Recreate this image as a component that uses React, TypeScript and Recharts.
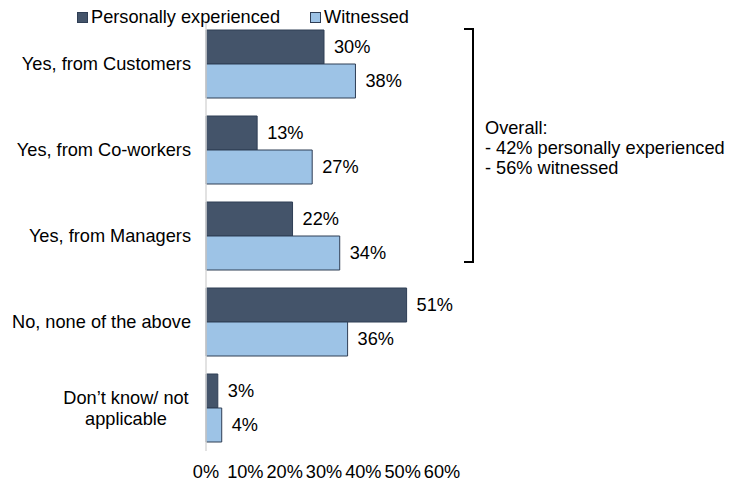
import { BarChart, Bar, XAxis, YAxis, Legend, LabelList } from "recharts";

const categories = [
  "Yes, from Customers",
  "Yes, from Co-workers",
  "Yes, from Managers",
  "No, none of the above",
  "Don\u2019t know/ not|applicable",
];
const personallyExperienced = [30, 13, 22, 51, 3];
const witnessed = [38, 27, 34, 36, 4];
const xTicks = [0, 10, 20, 30, 40, 50, 60];
const overallNote = [
  "Overall:",
  "- 42% personally experienced",
  "- 56% witnessed",
];

const series = [
  { key: "personal", name: "Personally experienced", fill: "#44546A", values: personallyExperienced },
  { key: "witnessed", name: "Witnessed", fill: "#9DC3E6", values: witnessed },
];

const data = categories.map((c, i) => ({
  category: c,
  personal: personallyExperienced[i],
  witnessed: witnessed[i],
}));

const FONT = "Arial, 'Liberation Sans', sans-serif";
const FS = 18.2;

function CategoryTick(props: any) {
  const { x, y, payload } = props;
  const lines = String(payload.value).split("|");
  if (lines.length === 1) {
    return (
      <text x={x - 7} y={y} dy={6} textAnchor="end" fontSize={FS} fontFamily={FONT} fill="#000">
        {lines[0]}
      </text>
    );
  }
  return (
    <text x={x - 72} y={y} textAnchor="middle" fontSize={FS} fontFamily={FONT} fill="#000">
      {lines.map((l, i) => (
        <tspan key={i} x={x - 72} dy={i === 0 ? -4 : 21}>
          {l}
        </tspan>
      ))}
    </text>
  );
}

function LegendContent() {
  return (
    <div style={{ display: "flex", fontFamily: FONT, fontSize: FS, color: "#000", whiteSpace: "nowrap" }}>
      {series.map((s) => (
        <div key={s.key} style={{ display: "flex", alignItems: "center", marginRight: 30 }}>
          <span
            style={{
              display: "inline-block",
              width: 9,
              height: 9,
              background: s.fill,
              border: "1px solid #2F3E55",
              marginRight: 3,
            }}
          />
          {s.name}
        </div>
      ))}
    </div>
  );
}

export default function App() {
  return (
    <div style={{ position: "absolute", left: 0, top: 0, width: 735, height: 487, background: "#fff" }}>
      <BarChart
        width={735}
        height={487}
        data={data}
        layout="vertical"
        margin={{ top: 21, right: 293, bottom: 6, left: 6 }}
        barCategoryGap={9}
        barGap={0}
      >
        <XAxis
          type="number"
          domain={[0, 60]}
          ticks={xTicks}
          axisLine={false}
          tickLine={false}
          tickMargin={8}
          height={30}
          tickFormatter={(v) => `${v}%`}
          tick={{ fontSize: FS, fill: "#000", fontFamily: FONT }}
          interval={0}
        />
        <YAxis
          type="category"
          dataKey="category"
          width={200}
          axisLine={{ stroke: "#D9D9D9", strokeWidth: 1.5 }}
          tickLine={false}
          tick={<CategoryTick />}
          interval={0}
        />
        <Legend
          layout="horizontal"
          verticalAlign="middle"
          align="center"
          content={<LegendContent />}
          wrapperStyle={{ top: 7, left: 77, width: 420 }}
        />
        {series.map((s) => (
          <Bar
            key={s.key}
            dataKey={s.key}
            name={s.name}
            fill={s.fill}
            stroke="#2F3E55"
            strokeWidth={1}
            isAnimationActive={false}
          >
            <LabelList
              dataKey={s.key}
              position="right"
              offset={10}
              formatter={(v: any) => `${v}%`}
              style={{ fontSize: FS, fill: "#000", fontFamily: FONT }}
            />
          </Bar>
        ))}
      </BarChart>
      <svg width={735} height={487} style={{ position: "absolute", left: 0, top: 0, pointerEvents: "none" }}>
        <path d="M464 29 H473 V262 H464" fill="none" stroke="#000" strokeWidth={2} />
        <text x={485} y={134} fontSize={FS} fontFamily={FONT} fill="#000">
          {overallNote.map((l, i) => (
            <tspan key={i} x={485} dy={i === 0 ? 0 : 20}>
              {l}
            </tspan>
          ))}
        </text>
      </svg>
    </div>
  );
}
